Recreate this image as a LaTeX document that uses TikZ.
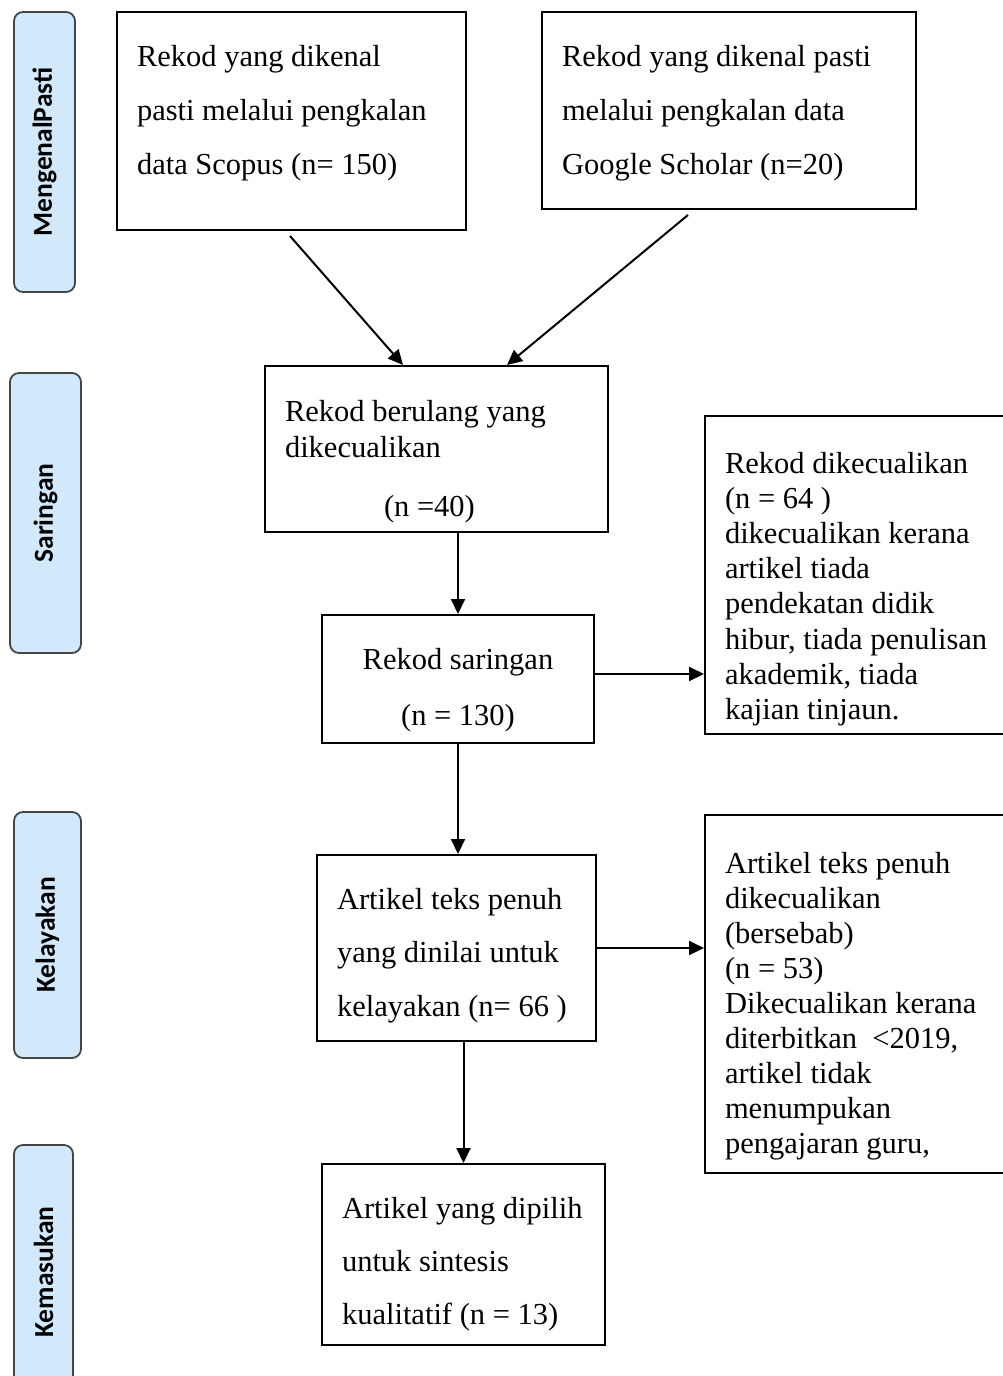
\documentclass[tikz,border=0pt]{standalone}
\usepackage{fontspec}
\setmainfont{Liberation Serif}
\newfontfamily\sidefnt{Carlito}
\usetikzlibrary{arrows.meta}
\definecolor{sidefill}{HTML}{D2E9FB}
\definecolor{sideborder}{HTML}{454545}
% width, height, line spacing, first baseline, text
\newcommand{\bxtext}[5]{\parbox[c][#2][t]{#1}{\fontsize{30.5pt}{#3}\selectfont\raggedright\leftskip=20pt\relax\rule{0pt}{#4}#5}}
\tikzset{
  box/.style={draw=black, line width=2pt, inner sep=0pt, anchor=north west},
  side/.style={draw=sideborder, fill=sidefill, rounded corners=9pt, line width=1.8pt, rotate=90,
    inner sep=0pt, font=\sidefnt\bfseries\fontsize{27.5pt}{30pt}\selectfont},
  arr/.style={line width=2pt, -{Triangle[length=15pt,width=14pt]}}
}
\begin{document}
\begin{tikzpicture}[x=1pt,y=-1pt]
\useasboundingbox (0,0) rectangle (1002,1376);
% side stage labels
\node[side, minimum width=280pt, minimum height=61pt] (s1) at (44.5,152) {MengenalPasti};
\node[side, minimum width=280pt, minimum height=71pt] (s2) at (45.5,513) {Saringan};
\node[side, minimum width=246pt, minimum height=67pt] (s3) at (47.5,935) {Kelayakan};
\node[side, minimum width=254pt, minimum height=59pt] (s4) at (43.5,1272) {Kemasukan};
% boxes
\node[box] (A) at (116,11) {\bxtext{349pt}{218pt}{54pt}{54pt}{Rekod yang dikenal\\ pasti melalui pengkalan\\ data Scopus (n= 150)}};
\node[box] (B) at (541,11) {\bxtext{374pt}{197pt}{54pt}{54pt}{Rekod yang dikenal pasti\\ melalui pengkalan data\\ Google Scholar (n=20)}};
\node[box] (C) at (264,365) {\bxtext{343pt}{166pt}{36pt}{55pt}{Rekod berulang yang\\ dikecualikan\\[23pt] \hspace*{99pt}(n =40)}};
\node[box] (D) at (321,614) {\bxtext{272pt}{128pt}{56pt}{54pt}{\centering Rekod saringan\\ (n = 130)}};
\node[box] (E) at (704,415) {\bxtext{300pt}{318pt}{35.2pt}{57pt}{Rekod dikecualikan\\ (n = 64 )\\ dikecualikan kerana\\ artikel tiada\\ pendekatan didik\\ hibur, tiada penulisan\\ akademik, tiada\\ kajian tinjaun.}};
\node[box] (F) at (316,854) {\bxtext{279pt}{186pt}{53.5pt}{54pt}{Artikel teks penuh\\ yang dinilai untuk\\ kelayakan (n= 66 )}};
\node[box] (G) at (704,814) {\bxtext{300pt}{358pt}{35.1pt}{58pt}{Artikel teks penuh\\ dikecualikan\\ (bersebab)\\ (n = 53)\\ Dikecualikan kerana\\ diterbitkan~ <2019,\\ artikel tidak\\ menumpukan\\ pengajaran guru,}};
\node[box] (H) at (321,1163) {\bxtext{283pt}{181pt}{53pt}{54pt}{Artikel yang dipilih\\ untuk sintesis\\ kualitatif (n = 13)}};
% connectors
\draw[arr] ([xshift=174pt,yshift=-5pt]A.south west) -- ([xshift=139pt]C.north west);
\draw[arr] ([xshift=147pt,yshift=-5pt]B.south west) -- ([xshift=243pt]C.north west);
\draw[arr] (D.north |- C.south) -- (D.north);
\draw[arr] ([yshift=5pt]D.east) -- ([yshift=5pt]D.east -| E.west);
\draw[arr] (D.south) -- (D.south |- F.north);
\draw[arr] (F.east) -- (F.east -| G.west);
\draw[arr] (H.north |- F.south) -- (H.north);
\end{tikzpicture}
\end{document}
